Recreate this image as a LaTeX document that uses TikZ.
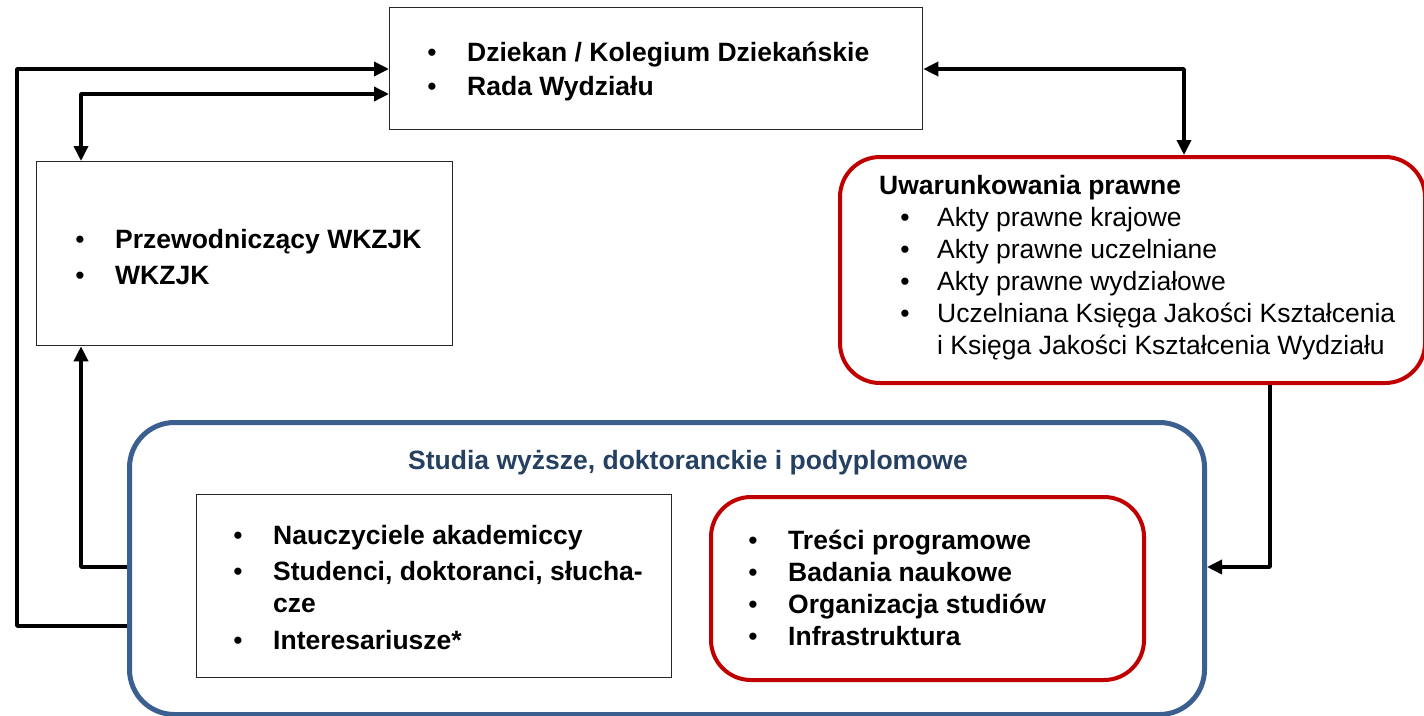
\documentclass[tikz,border=0pt]{standalone}
\usepackage{fontspec}
\setmainfont{Liberation Sans}
\usetikzlibrary{arrows.meta}
\definecolor{myred}{HTML}{C00000}
\definecolor{myblue}{HTML}{3B5F8F}
\definecolor{mynavy}{HTML}{254061}
\begin{document}
\begin{tikzpicture}[x=1pt,y=-1pt,
  font=\fontsize{26.5}{31}\selectfont,
  plainbox/.style={draw=black!85, line width=1.3pt, inner sep=0pt, anchor=north west},
  redbox/.style={draw=myred, line width=4pt, rounded corners=40pt, inner sep=0pt, anchor=north west},
  bluebox/.style={draw=myblue, line width=5pt, rounded corners=45pt, inner sep=0pt, anchor=north west},
  txt/.style={anchor=base west, inner sep=0pt},
  btxt/.style={txt, font=\fontsize{26.5}{31}\selectfont\bfseries},
  bul/.style={anchor=base, inner sep=0pt},
  conn/.style={line width=3.5pt, line join=round},
  tip/.style={-{Triangle[length=15pt,width=14pt]}},
  tips/.style={{Triangle[length=15pt,width=14pt]}-{Triangle[length=15pt,width=14pt]}}
]
\useasboundingbox (0,0) rectangle (1424,715);
\clip (0,0) rectangle (1424,715);

% boxes
\node[plainbox, minimum width=533pt, minimum height=122pt] (top) at (389,7) {};
\node[plainbox, minimum width=416pt, minimum height=184pt] (left) at (36,161) {};
\node[redbox, minimum width=585pt, minimum height=226pt] (legal) at (838,155) {};
\node[bluebox, minimum width=1075pt, minimum height=292pt] (studia) at (127,420) {};
\node[plainbox, minimum width=475pt, minimum height=183pt] (people) at (196,494) {};
\node[redbox, minimum width=433pt, minimum height=183pt] (content) at (709,495) {};

% top box text
\node[bul] (tb1) at (432,61) {\textbullet};
\node[btxt] (tt1) at (467,61) {Dziekan / Kolegium Dziekańskie};
\node[bul] (tb2) at (432,95) {\textbullet};
\node[btxt] (tt2) at (467,95) {Rada Wydziału};

% left box text
\node[bul] (lb1) at (80,248) {\textbullet};
\node[btxt] (lt1) at (115,248) {Przewodniczący WKZJK};
\node[bul] (lb2) at (80,284) {\textbullet};
\node[btxt] (lt2) at (115,284) {WKZJK};

% legal box text
\node[btxt] (gt0) at (879,194) {Uwarunkowania prawne};
\node[bul] (gb1) at (905,226) {\textbullet};
\node[txt] (gt1) at (937,226) {Akty prawne krajowe};
\node[bul] (gb2) at (905,258) {\textbullet};
\node[txt] (gt2) at (937,258) {Akty prawne uczelniane};
\node[bul] (gb3) at (905,290) {\textbullet};
\node[txt] (gt3) at (937,290) {Akty prawne wydziałowe};
\node[bul] (gb4) at (905,322) {\textbullet};
\node[txt] (gt4) at (937,322) {Uczelniana Księga Jakości Kształcenia};
\node[txt] (gt5) at (937,354) {i Księga Jakości Kształcenia Wydziału};

% studia title
\node[anchor=base, inner sep=0pt, text=mynavy, font=\fontsize{26.5}{31}\selectfont\bfseries] (st) at (688,469) {Studia wyższe, doktoranckie i podyplomowe};

% people text
\node[bul] (pb1) at (238,544) {\textbullet};
\node[btxt] (pt1) at (273,544) {Nauczyciele akademiccy};
\node[bul] (pb2) at (238,580) {\textbullet};
\node[btxt] (pt2) at (273,580) {Studenci, doktoranci, słucha-};
\node[btxt] (pt3) at (273,612) {cze};
\node[bul] (pb4) at (238,649) {\textbullet};
\node[btxt] (pt4) at (273,649) {Interesariusze*};

% content text
\node[bul] (cb1) at (753,549) {\textbullet};
\node[btxt] (ct1) at (788,549) {Treści programowe};
\node[bul] (cb2) at (753,581) {\textbullet};
\node[btxt] (ct2) at (788,581) {Badania naukowe};
\node[bul] (cb3) at (753,613) {\textbullet};
\node[btxt] (ct3) at (788,613) {Organizacja studiów};
\node[bul] (cb4) at (753,645) {\textbullet};
\node[btxt] (ct4) at (788,645) {Infrastruktura};

% connector corners
\coordinate (k1) at (17,626);
\coordinate (k2) at (17,69);
\coordinate (k3) at (81,94);
\coordinate (k4) at (81,567);
\coordinate (k5) at (1184,69);
\coordinate (k6) at (1270,567);

% connectors
\draw[conn,tip] (studia.west |- k1) -- (k1) -- (k2) -- (top.west |- k2);
\draw[conn,tips] (left.north -| k3) -- (k3) -- (top.west |- k3);
\draw[conn,tip] (studia.west |- k4) -- (k4) -- (left.south -| k4);
\draw[conn,tips] (top.east |- k5) -- (k5) -- (legal.north -| k5);
\draw[conn,tip] (legal.south -| k6) -- (k6) -- (studia.east |- k6);
\end{tikzpicture}
\end{document}
